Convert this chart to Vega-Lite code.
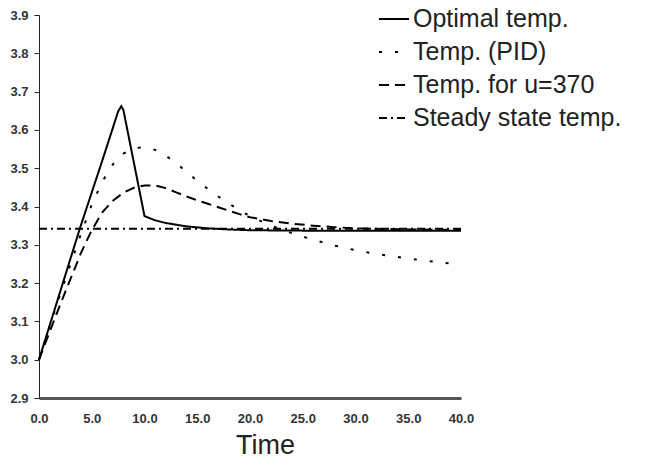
{
  "$schema": "https://vega.github.io/schema/vega-lite/v6.json",
  "width": 422,
  "height": 383,
  "autosize": {"type": "none"},
  "padding": {"left": 39, "top": 15, "right": 209, "bottom": 62},
  "background": "white",
  "config": {"view": {"stroke": null}, "font": "Liberation Sans"},
  "data": {"values": [
    {"series": "Optimal temp.", "t": 0, "v": 3.0},
    {"series": "Optimal temp.", "t": 2, "v": 3.177},
    {"series": "Optimal temp.", "t": 3.9, "v": 3.345},
    {"series": "Optimal temp.", "t": 6, "v": 3.52},
    {"series": "Optimal temp.", "t": 7.5, "v": 3.648},
    {"series": "Optimal temp.", "t": 7.8, "v": 3.662},
    {"series": "Optimal temp.", "t": 8.0, "v": 3.652},
    {"series": "Optimal temp.", "t": 10.0, "v": 3.375},
    {"series": "Optimal temp.", "t": 11, "v": 3.364},
    {"series": "Optimal temp.", "t": 12, "v": 3.357},
    {"series": "Optimal temp.", "t": 14, "v": 3.348},
    {"series": "Optimal temp.", "t": 16, "v": 3.343},
    {"series": "Optimal temp.", "t": 18, "v": 3.34},
    {"series": "Optimal temp.", "t": 20, "v": 3.338},
    {"series": "Optimal temp.", "t": 25, "v": 3.337},
    {"series": "Optimal temp.", "t": 30, "v": 3.337},
    {"series": "Optimal temp.", "t": 35, "v": 3.337},
    {"series": "Optimal temp.", "t": 40, "v": 3.337},

    {"series": "Temp. (PID)", "t": 0, "v": 3.0},
    {"series": "Temp. (PID)", "t": 1, "v": 3.085},
    {"series": "Temp. (PID)", "t": 2, "v": 3.17},
    {"series": "Temp. (PID)", "t": 3, "v": 3.25},
    {"series": "Temp. (PID)", "t": 4, "v": 3.33},
    {"series": "Temp. (PID)", "t": 5, "v": 3.405},
    {"series": "Temp. (PID)", "t": 6, "v": 3.465},
    {"series": "Temp. (PID)", "t": 7, "v": 3.51},
    {"series": "Temp. (PID)", "t": 8, "v": 3.538},
    {"series": "Temp. (PID)", "t": 9, "v": 3.552},
    {"series": "Temp. (PID)", "t": 10, "v": 3.555},
    {"series": "Temp. (PID)", "t": 11, "v": 3.548},
    {"series": "Temp. (PID)", "t": 12, "v": 3.533},
    {"series": "Temp. (PID)", "t": 13, "v": 3.513},
    {"series": "Temp. (PID)", "t": 14, "v": 3.49},
    {"series": "Temp. (PID)", "t": 15, "v": 3.467},
    {"series": "Temp. (PID)", "t": 16, "v": 3.446},
    {"series": "Temp. (PID)", "t": 17, "v": 3.426},
    {"series": "Temp. (PID)", "t": 18, "v": 3.408},
    {"series": "Temp. (PID)", "t": 19, "v": 3.39},
    {"series": "Temp. (PID)", "t": 20, "v": 3.375},
    {"series": "Temp. (PID)", "t": 22, "v": 3.35},
    {"series": "Temp. (PID)", "t": 24, "v": 3.33},
    {"series": "Temp. (PID)", "t": 26, "v": 3.313},
    {"series": "Temp. (PID)", "t": 28, "v": 3.298},
    {"series": "Temp. (PID)", "t": 30, "v": 3.286},
    {"series": "Temp. (PID)", "t": 32, "v": 3.276},
    {"series": "Temp. (PID)", "t": 35, "v": 3.264},
    {"series": "Temp. (PID)", "t": 38, "v": 3.254},
    {"series": "Temp. (PID)", "t": 40, "v": 3.248},

    {"series": "Temp. for u=370", "t": 0, "v": 3.0},
    {"series": "Temp. for u=370", "t": 1, "v": 3.072},
    {"series": "Temp. for u=370", "t": 2, "v": 3.143},
    {"series": "Temp. for u=370", "t": 3, "v": 3.212},
    {"series": "Temp. for u=370", "t": 4, "v": 3.28},
    {"series": "Temp. for u=370", "t": 5, "v": 3.338},
    {"series": "Temp. for u=370", "t": 6, "v": 3.385},
    {"series": "Temp. for u=370", "t": 7, "v": 3.415},
    {"series": "Temp. for u=370", "t": 8, "v": 3.436},
    {"series": "Temp. for u=370", "t": 9, "v": 3.449},
    {"series": "Temp. for u=370", "t": 10, "v": 3.455},
    {"series": "Temp. for u=370", "t": 11, "v": 3.455},
    {"series": "Temp. for u=370", "t": 12, "v": 3.448},
    {"series": "Temp. for u=370", "t": 13, "v": 3.437},
    {"series": "Temp. for u=370", "t": 14, "v": 3.426},
    {"series": "Temp. for u=370", "t": 15, "v": 3.416},
    {"series": "Temp. for u=370", "t": 16, "v": 3.407},
    {"series": "Temp. for u=370", "t": 17, "v": 3.398},
    {"series": "Temp. for u=370", "t": 18, "v": 3.389},
    {"series": "Temp. for u=370", "t": 19, "v": 3.38},
    {"series": "Temp. for u=370", "t": 20, "v": 3.372},
    {"series": "Temp. for u=370", "t": 22, "v": 3.362},
    {"series": "Temp. for u=370", "t": 24, "v": 3.355},
    {"series": "Temp. for u=370", "t": 26, "v": 3.35},
    {"series": "Temp. for u=370", "t": 28, "v": 3.346},
    {"series": "Temp. for u=370", "t": 30, "v": 3.343},
    {"series": "Temp. for u=370", "t": 35, "v": 3.34},
    {"series": "Temp. for u=370", "t": 40, "v": 3.339},

    {"series": "Steady state temp.", "t": 0, "v": 3.342},
    {"series": "Steady state temp.", "t": 40, "v": 3.342}
  ]},
  "mark": {"type": "line", "strokeWidth": 2, "color": "black"},
  "encoding": {
    "x": {"field": "t", "type": "quantitative",
      "scale": {"domain": [0, 40], "nice": false},
      "axis": {"values": [0, 5, 10, 15, 20, 25, 30, 35, 40], "format": ".1f", "title": "Time",
        "ticks": false, "labelPadding": 14, "labelFontSize": 13, "labelFontWeight": "bold", "labelColor": "#333",
        "labelFlush": false,
        "domainWidth": 3, "domainColor": "#555", "grid": false,
        "titleFontSize": 27, "titleFontWeight": "normal", "titleColor": "#222", "titlePadding": 7, "titleX": 226}},
    "y": {"field": "v", "type": "quantitative",
      "scale": {"domain": [2.9, 3.9], "nice": false, "zero": false},
      "axis": {"values": [2.9, 3.0, 3.1, 3.2, 3.3, 3.4, 3.5, 3.6, 3.7, 3.8, 3.9], "format": ".1f", "title": null,
        "tickSize": 5, "tickColor": "#222", "labelFontSize": 13, "labelFontWeight": "bold", "labelColor": "#333",
        "labelPadding": 6, "domainColor": "#222", "grid": false, "labelFlush": false}},
    "strokeDash": {"field": "series", "type": "nominal",
      "scale": {"domain": ["Optimal temp.", "Temp. (PID)", "Temp. for u=370", "Steady state temp."],
        "range": [[1, 0], [3, 13], [10, 6], [8, 4, 2, 4]]},
      "legend": {"title": null, "orient": "none", "legendX": 339, "legendY": -12,
        "symbolType": "stroke", "symbolSize": 900, "symbolStrokeWidth": 2, "symbolStrokeColor": "black",
        "labelFontSize": 25, "labelColor": "#222", "labelOffset": 3, "rowPadding": 4, "padding": 0,
        "labelLimit": 400}}
  }
}
